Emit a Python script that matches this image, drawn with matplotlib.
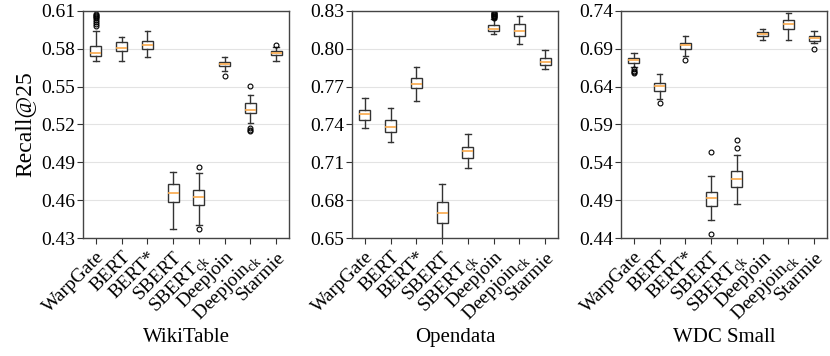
import numpy as np
import matplotlib
matplotlib.use("Agg")
from matplotlib import pyplot as plt

plt.rcParams['font.family'] = ['Liberation Serif', 'DejaVu Serif']
plt.rcParams['mathtext.fontset'] = 'custom'
plt.rcParams['mathtext.rm'] = 'Liberation Serif'

methods = ["WarpGate", "BERT", "BERT*", "SBERT", r"SBERT$_{\rm ck}$",
           "Deepjoin", r"Deepjoin$_{\rm ck}$", "Starmie"]

# WikiTable
wiki_whislo = [0.5702, 0.5702, 0.5734, 0.4372, 0.4404, 0.5622, 0.5211, 0.5702]
wiki_q1 = [0.5739, 0.5781, 0.5800, 0.4584, 0.4565, 0.5659, 0.5288, 0.5747]
wiki_med = [0.5765, 0.5805, 0.5829, 0.4658, 0.4624, 0.5678, 0.5312, 0.5765]
wiki_q3 = [0.5824, 0.5850, 0.5864, 0.4733, 0.4682, 0.5694, 0.5367, 0.5784]
wiki_whishi = [0.5938, 0.5893, 0.5943, 0.4826, 0.4820, 0.5734, 0.5431, 0.5816]
wiki_fliers = [[0.6075, 0.6065, 0.6060, 0.6050, 0.6040, 0.6025, 0.6010, 0.5995, 0.5980],
               [], [], [], [0.4863, 0.4372], [0.5582],
               [0.5505, 0.5175, 0.5160, 0.5150], [0.5832]]

# Opendata
open_whislo = [0.7376, 0.7258, 0.7582, 0.6480, 0.7053, 0.8118, 0.8039, 0.7839]
open_q1 = [0.7439, 0.7339, 0.7692, 0.6618, 0.7132, 0.8139, 0.8103, 0.7871]
open_med = [0.7484, 0.7384, 0.7718, 0.6697, 0.7187, 0.8153, 0.8139, 0.7897]
open_q3 = [0.7518, 0.7439, 0.7771, 0.6784, 0.7221, 0.8184, 0.8195, 0.7926]
open_whishi = [0.7610, 0.7529, 0.7858, 0.6932, 0.7321, 0.8237, 0.8258, 0.7992]
open_fliers = [[], [], [], [], [],
               [0.8288, 0.8282, 0.8276, 0.8270, 0.8265, 0.8260, 0.8255, 0.8250, 0.8245],
               [], []]

# WDC Small
wdc_whislo = [0.6654, 0.6238, 0.6804, 0.4641, 0.4847, 0.7018, 0.7010, 0.6970]
wdc_q1 = [0.6716, 0.6343, 0.6896, 0.4825, 0.5080, 0.7067, 0.7159, 0.7005]
wdc_med = [0.6751, 0.6404, 0.6948, 0.4926, 0.5185, 0.7093, 0.7229, 0.7040]
wdc_q3 = [0.6777, 0.6453, 0.6975, 0.5010, 0.5282, 0.7119, 0.7277, 0.7071]
wdc_whishi = [0.6843, 0.6571, 0.7067, 0.5220, 0.5496, 0.7159, 0.7374, 0.7137]
wdc_fliers = [[0.6635, 0.6610, 0.6590, 0.6575], [0.6185], [0.6751],
              [0.5540, 0.4457], [0.5694, 0.5593], [], [], [0.6896]]

panels = [
    ("WikiTable", wiki_whislo, wiki_q1, wiki_med, wiki_q3, wiki_whishi, wiki_fliers,
     (0.43, 0.61), np.arange(0.43, 0.6101, 0.03)),
    ("Opendata", open_whislo, open_q1, open_med, open_q3, open_whishi, open_fliers,
     (0.65, 0.83), np.arange(0.65, 0.8301, 0.03)),
    ("WDC Small", wdc_whislo, wdc_q1, wdc_med, wdc_q3, wdc_whishi, wdc_fliers,
     (0.44, 0.74), np.arange(0.44, 0.7401, 0.05)),
]

edge = "#333333"
fig, axes = plt.subplots(1, 3, figsize=(8.3, 3.56), dpi=100)
plt.subplots_adjust(left=0.1, right=0.9964, bottom=0.3306, top=0.97, wspace=0.306)

for ax, (name, lo, q1, med, q3, hi, fl, ylim, yticks) in zip(axes, panels):
    stats = []
    for i in range(len(methods)):
        stats.append(dict(whislo=lo[i], q1=q1[i], med=med[i], q3=q3[i],
                          whishi=hi[i], fliers=fl[i], label=methods[i]))
    ax.bxp(stats, widths=0.42, patch_artist=True,
           boxprops=dict(facecolor="white", edgecolor=edge, linewidth=1.0),
           whiskerprops=dict(color=edge, linewidth=1.0),
           capprops=dict(color=edge, linewidth=1.0),
           medianprops=dict(color="#f9a94b", linewidth=1.2),
           flierprops=dict(marker="o", markersize=3.5, markerfacecolor="none",
                           markeredgecolor="black", markeredgewidth=0.8))
    ax.set_xlim(0.5, 8.5)
    ax.set_ylim(*ylim)
    ax.set_yticks(yticks)
    ax.set_yticklabels([f"{t:.2f}" for t in yticks])
    ax.yaxis.grid(True, color="#e3e3e3", linewidth=0.8)
    ax.set_axisbelow(True)
    ax.tick_params(axis="both", labelsize=14, color=edge, length=4, width=0.8)
    ax.tick_params(axis="y", pad=1.5)
    ax.set_xticklabels(methods, rotation=45, ha="right", rotation_mode="anchor")
    for s in ax.spines.values():
        s.set_color("#444444")
        s.set_linewidth(1.0)
    ax.text(0.5, -0.456, name, transform=ax.transAxes, ha="center",
            va="baseline", fontsize=15)

axes[0].set_ylabel("Recall@25", fontsize=17)
axes[0].yaxis.set_label_coords(-0.232, 0.5)

plt.savefig("out.png", dpi=100)
